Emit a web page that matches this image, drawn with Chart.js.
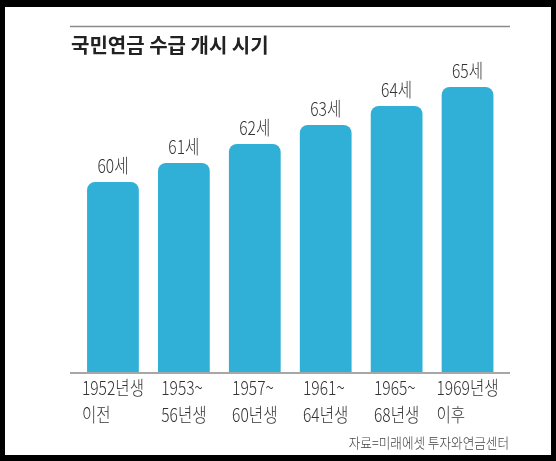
<!DOCTYPE html>
<html>
<head>
<meta charset="utf-8">
<script src="https://cdn.jsdelivr.net/npm/chart.js@4"></script>
<style>
  html, body { margin: 0; padding: 0; background: #000; }
  #wrap { position: absolute; left: 5px; top: 7px; width: 546px; height: 448px; background: #fff; }
</style>
</head>
<body>
<div id="wrap"><canvas id="pensionChart"></canvas></div>
<script>
// 출생연도 구간별 국민연금 수급 개시 나이
const categories = ['1952년생 이전', '1953~56년생', '1957~60년생', '1961~64년생', '1965~68년생', '1969년생 이후'];
const tickLabels = [
    ['1952년생', '이전'],
    ['1953~', '56년생'],
    ['1957~', '60년생'],
    ['1961~', '64년생'],
    ['1965~', '68년생'],
    ['1969년생', '이후']
];
const startAge = [60, 61, 62, 63, 64, 65];
const ageSuffix = '세';
const chartTitle = '국민연금 수급 개시 시기';
const sourceNote = '자료=미래에셋 투자와연금센터';

const FONT = '"Noto Sans CJK KR", "Noto Sans", sans-serif';
const NARROW = 0.82;

// 좁은 글꼴 흉내: 가로로 눌러서 그리기
function narrowText(ctx, text, x, y, sx) {
    ctx.save();
    ctx.translate(x, y);
    ctx.scale(sx, 1);
    ctx.fillText(text, 0, 0);
    ctx.restore();
}

const decorations = {
    id: 'decorations',
    afterDatasetsDraw(chart) {
        const ctx = chart.ctx;
        const xScale = chart.scales.x;
        const meta = chart.getDatasetMeta(0);

        ctx.save();
        // 제목 위 선, 바닥 선
        ctx.strokeStyle = '#8a8a8a';
        ctx.lineWidth = 1.5;
        ctx.beginPath();
        ctx.moveTo(65, 19.5);
        ctx.lineTo(505, 19.5);
        ctx.moveTo(65, chart.chartArea.bottom + 1);
        ctx.lineTo(505, chart.chartArea.bottom + 1);
        ctx.stroke();

        // 제목
        ctx.fillStyle = '#222';
        ctx.font = 'bold 20px ' + FONT;
        ctx.textAlign = 'left';
        ctx.textBaseline = 'middle';
        ctx.fillText(chartTitle, 66, 38);

        // 막대 위 값
        ctx.fillStyle = '#333';
        ctx.font = '300 19px ' + FONT;
        ctx.textAlign = 'center';
        ctx.textBaseline = 'alphabetic';
        meta.data.forEach((bar, i) => {
            narrowText(ctx, startAge[i] + ageSuffix, bar.x, bar.y - 9, NARROW);
        });

        // x축 라벨 (블록 가운데, 줄은 왼쪽 맞춤)
        ctx.textAlign = 'left';
        tickLabels.forEach((lines, i) => {
            const cx = xScale.getPixelForValue(i);
            const widths = lines.map(t => ctx.measureText(t).width * NARROW);
            const left = cx - Math.max(...widths) / 2;
            lines.forEach((t, j) => {
                narrowText(ctx, t, left, chart.chartArea.bottom + 23 + j * 26.5, NARROW);
            });
        });

        // 출처
        ctx.fillStyle = '#444';
        ctx.font = '300 14px ' + FONT;
        ctx.textAlign = 'right';
        narrowText(ctx, sourceNote, 504, 441, 0.9);
        ctx.restore();
    }
};

const ctx = document.getElementById('pensionChart').getContext('2d');
new Chart(ctx, {
    type: 'bar',
    data: {
        labels: categories,
        datasets: [{
            label: '수급 개시 나이',
            data: startAge,
            backgroundColor: '#30b0d6',
            borderWidth: 0,
            borderRadius: 8,
            borderSkipped: 'bottom',
            categoryPercentage: 1,
            barPercentage: 0.73
        }]
    },
    options: {
        responsive: true,
        maintainAspectRatio: false,
        animation: false,
        layout: {
            padding: { left: 72.5, right: 48, top: 61, bottom: 83 }
        },
        scales: {
            x: { display: false },
            y: { display: false, min: 50, max: 66 }
        },
        plugins: {
            legend: { display: false },
            tooltip: { enabled: false }
        }
    },
    plugins: [decorations]
});
</script>
</body>
</html>
